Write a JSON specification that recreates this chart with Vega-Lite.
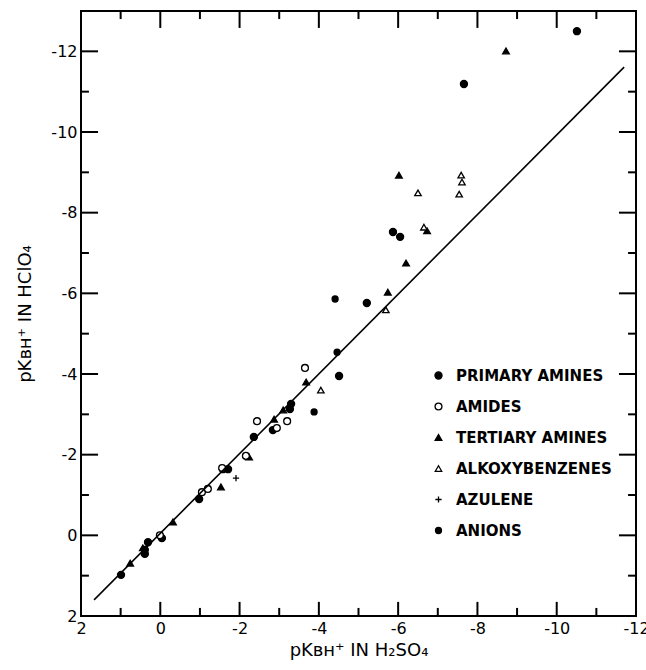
{
  "$schema": "https://vega.github.io/schema/vega-lite/v6.json",
  "width": 555,
  "height": 605,
  "autosize": {"type": "none"},
  "padding": {"left": 81, "top": 11, "right": 10, "bottom": 54},
  "config": {
    "view": {"stroke": "black", "strokeWidth": 2},
    "font": "DejaVu Sans",
    "scale": {"continuousPadding": 0},
    "axis": {
      "domain": false,
      "ticks": false,
      "grid": false,
      "labelColor": "black",
      "titleColor": "black",
      "labelFont": "DejaVu Sans",
      "labelFontSize": 16,
      "titleFont": "DejaVu Sans",
      "titleFontSize": 18,
      "titleFontWeight": "normal",
      "labelFlush": false,
      "labelOverlap": false
    }
  },
  "datasets": {
    "ticks": [
      {"v": 2, "kind": "major"}, {"v": 1, "kind": "minor"}, {"v": 0, "kind": "major"},
      {"v": -1, "kind": "minor"}, {"v": -2, "kind": "major"}, {"v": -3, "kind": "minor"},
      {"v": -4, "kind": "major"}, {"v": -5, "kind": "minor"}, {"v": -6, "kind": "major"},
      {"v": -7, "kind": "minor"}, {"v": -8, "kind": "major"}, {"v": -9, "kind": "minor"},
      {"v": -10, "kind": "major"}, {"v": -11, "kind": "minor"}, {"v": -12, "kind": "major"}
    ]
  },
  "resolve": {"axis": {"x": "independent", "y": "independent"}},
  "layer": [
    {
      "data": {
        "values": [
          {"h2so4": -10.51, "hclo4": -12.50, "class": "PRIMARY AMINES"},
          {"h2so4": -7.66, "hclo4": -11.19, "class": "PRIMARY AMINES"},
          {"h2so4": -5.87, "hclo4": -7.52, "class": "PRIMARY AMINES"},
          {"h2so4": -6.05, "hclo4": -7.40, "class": "PRIMARY AMINES"},
          {"h2so4": -5.21, "hclo4": -5.76, "class": "PRIMARY AMINES"},
          {"h2so4": -4.51, "hclo4": -3.95, "class": "PRIMARY AMINES"},
          {"h2so4": -3.30, "hclo4": -3.26, "class": "PRIMARY AMINES"},
          {"h2so4": -3.27, "hclo4": -3.13, "class": "PRIMARY AMINES"},
          {"h2so4": -2.84, "hclo4": -2.61, "class": "PRIMARY AMINES"},
          {"h2so4": -2.36, "hclo4": -2.44, "class": "PRIMARY AMINES"},
          {"h2so4": -1.58, "hclo4": -1.64, "class": "PRIMARY AMINES"},
          {"h2so4": -1.71, "hclo4": -1.64, "class": "PRIMARY AMINES"},
          {"h2so4": -0.98, "hclo4": -0.90, "class": "PRIMARY AMINES"},
          {"h2so4": -0.04, "hclo4": 0.07, "class": "PRIMARY AMINES"},
          {"h2so4": 0.31, "hclo4": 0.17, "class": "PRIMARY AMINES"},
          {"h2so4": 0.39, "hclo4": 0.36, "class": "PRIMARY AMINES"},
          {"h2so4": 0.39, "hclo4": 0.46, "class": "PRIMARY AMINES"},
          {"h2so4": 0.99, "hclo4": 0.98, "class": "PRIMARY AMINES"},
          {"h2so4": -8.72, "hclo4": -12.01, "class": "TERTIARY AMINES"},
          {"h2so4": -6.02, "hclo4": -8.93, "class": "TERTIARY AMINES"},
          {"h2so4": -6.73, "hclo4": -7.55, "class": "TERTIARY AMINES"},
          {"h2so4": -6.20, "hclo4": -6.75, "class": "TERTIARY AMINES"},
          {"h2so4": -5.74, "hclo4": -6.03, "class": "TERTIARY AMINES"},
          {"h2so4": -3.68, "hclo4": -3.80, "class": "TERTIARY AMINES"},
          {"h2so4": -3.10, "hclo4": -3.11, "class": "TERTIARY AMINES"},
          {"h2so4": -2.87, "hclo4": -2.88, "class": "TERTIARY AMINES"},
          {"h2so4": -2.24, "hclo4": -1.94, "class": "TERTIARY AMINES"},
          {"h2so4": -1.53, "hclo4": -1.20, "class": "TERTIARY AMINES"},
          {"h2so4": -0.32, "hclo4": -0.33, "class": "TERTIARY AMINES"},
          {"h2so4": 0.44, "hclo4": 0.31, "class": "TERTIARY AMINES"},
          {"h2so4": 0.76, "hclo4": 0.69, "class": "TERTIARY AMINES"},
          {"h2so4": -4.41, "hclo4": -5.86, "class": "ANIONS"},
          {"h2so4": -4.46, "hclo4": -4.54, "class": "ANIONS"},
          {"h2so4": -3.88, "hclo4": -3.06, "class": "ANIONS"},
          {"h2so4": -3.65, "hclo4": -4.15, "class": "AMIDES"},
          {"h2so4": -3.20, "hclo4": -2.83, "class": "AMIDES"},
          {"h2so4": -2.94, "hclo4": -2.66, "class": "AMIDES"},
          {"h2so4": -2.44, "hclo4": -2.83, "class": "AMIDES"},
          {"h2so4": -2.16, "hclo4": -1.97, "class": "AMIDES"},
          {"h2so4": -1.56, "hclo4": -1.67, "class": "AMIDES"},
          {"h2so4": -1.05, "hclo4": -1.07, "class": "AMIDES"},
          {"h2so4": -1.20, "hclo4": -1.15, "class": "AMIDES"},
          {"h2so4": 0.01, "hclo4": 0.0, "class": "AMIDES"},
          {"h2so4": -6.50, "hclo4": -8.49, "class": "ALKOXYBENZENES"},
          {"h2so4": -7.59, "hclo4": -8.93, "class": "ALKOXYBENZENES"},
          {"h2so4": -7.61, "hclo4": -8.76, "class": "ALKOXYBENZENES"},
          {"h2so4": -7.54, "hclo4": -8.46, "class": "ALKOXYBENZENES"},
          {"h2so4": -6.65, "hclo4": -7.64, "class": "ALKOXYBENZENES"},
          {"h2so4": -5.69, "hclo4": -5.59, "class": "ALKOXYBENZENES"},
          {"h2so4": -4.05, "hclo4": -3.60, "class": "ALKOXYBENZENES"},
          {"h2so4": -1.91, "hclo4": -1.42, "class": "AZULENE"}
        ]
      },
      "mark": {"type": "point", "strokeWidth": 1.3, "opacity": 1},
      "encoding": {
        "x": {
          "field": "h2so4",
          "type": "quantitative",
          "scale": {"domain": [-12, 2], "reverse": true, "nice": false, "zero": false, "padding": 0},
          "axis": {
            "orient": "bottom",
            "title": "pKʙʜ⁺ IN H₂SO₄",
            "titlePadding": 5,
            "values": [2, 0, -2, -4, -6, -8, -10, -12],
            "labelExpr": "'' + datum.value",
            "labelPadding": 4
          }
        },
        "y": {
          "field": "hclo4",
          "type": "quantitative",
          "scale": {"domain": [-13, 2], "reverse": true, "nice": false, "zero": false, "padding": 0},
          "axis": {
            "orient": "left",
            "title": "pKʙʜ⁺ IN HClO₄",
            "titlePadding": 16,
            "values": [2, 0, -2, -4, -6, -8, -10, -12],
            "labelExpr": "'' + datum.value",
            "labelPadding": 4
          }
        },
        "shape": {
          "field": "class",
          "type": "nominal",
          "scale": {
            "domain": ["PRIMARY AMINES", "AMIDES", "TERTIARY AMINES", "ALKOXYBENZENES", "AZULENE", "ANIONS"],
            "range": ["circle", "circle", "triangle-up", "triangle-up", "M-1,0H1M0,-1V1", "circle"]
          },
          "legend": {"orient": "none", "legendX": 350, "legendY": 357, "title": null, "labelFont": "DejaVu Sans", "labelFontSize": 15, "labelFontWeight": "bold", "labelColor": "black", "rowPadding": 15, "labelOffset": 10, "symbolStrokeWidth": 1.3, "padding": 0}
        },
        "fill": {
          "field": "class",
          "type": "nominal",
          "scale": {
            "domain": ["PRIMARY AMINES", "AMIDES", "TERTIARY AMINES", "ALKOXYBENZENES", "AZULENE", "ANIONS"],
            "range": ["black", "white", "black", "white", "black", "black"]
          },
          "legend": {"orient": "none", "legendX": 350, "legendY": 357, "title": null, "labelFont": "DejaVu Sans", "labelFontSize": 15, "labelFontWeight": "bold", "labelColor": "black", "rowPadding": 15, "labelOffset": 10, "symbolStrokeWidth": 1.3, "padding": 0}
        },
        "stroke": {
          "field": "class",
          "type": "nominal",
          "scale": {
            "domain": ["PRIMARY AMINES", "AMIDES", "TERTIARY AMINES", "ALKOXYBENZENES", "AZULENE", "ANIONS"],
            "range": ["black", "black", "black", "black", "black", "black"]
          },
          "legend": {"orient": "none", "legendX": 350, "legendY": 357, "title": null, "labelFont": "DejaVu Sans", "labelFontSize": 15, "labelFontWeight": "bold", "labelColor": "black", "rowPadding": 15, "labelOffset": 10, "symbolStrokeWidth": 1.3, "padding": 0}
        },
        "size": {
          "field": "class",
          "type": "nominal",
          "scale": {
            "domain": ["PRIMARY AMINES", "AMIDES", "TERTIARY AMINES", "ALKOXYBENZENES", "AZULENE", "ANIONS"],
            "range": [50, 36, 55, 38, 100, 30]
          },
          "legend": {"orient": "none", "legendX": 350, "legendY": 357, "title": null, "labelFont": "DejaVu Sans", "labelFontSize": 15, "labelFontWeight": "bold", "labelColor": "black", "rowPadding": 15, "labelOffset": 10, "symbolStrokeWidth": 1.3, "padding": 0}
        }
      }
    },
    {
      "data": {"values": [{"h2so4": 1.67, "hclo4": 1.6}, {"h2so4": -11.7, "hclo4": -11.61}]},
      "mark": {"type": "line", "color": "black", "strokeWidth": 1.6},
      "encoding": {
        "x": {"field": "h2so4", "type": "quantitative", "axis": null},
        "y": {"field": "hclo4", "type": "quantitative", "axis": null}
      }
    },
    {
      "data": {"name": "ticks"},
      "transform": [{"filter": "datum.kind == 'major'"}],
      "mark": {"type": "bar", "color": "black", "width": 2, "opacity": 1},
      "encoding": {
        "x": {"field": "v", "type": "quantitative", "axis": null},
        "y": {"datum": 2, "type": "quantitative", "axis": null},
        "y2": {"datum": 1.65}
      }
    },
    {
      "data": {"name": "ticks"},
      "transform": [{"filter": "datum.kind == 'minor'"}],
      "mark": {"type": "bar", "color": "black", "width": 2, "opacity": 1},
      "encoding": {
        "x": {"field": "v", "type": "quantitative", "axis": null},
        "y": {"datum": 2, "type": "quantitative", "axis": null},
        "y2": {"datum": 1.8}
      }
    },
    {
      "data": {"name": "ticks"},
      "transform": [{"filter": "datum.kind == 'major'"}],
      "mark": {"type": "bar", "color": "black", "width": 2, "opacity": 1},
      "encoding": {
        "x": {"field": "v", "type": "quantitative", "axis": null},
        "y": {"datum": -13, "type": "quantitative", "axis": null},
        "y2": {"datum": -12.58}
      }
    },
    {
      "data": {"name": "ticks"},
      "transform": [{"filter": "datum.kind == 'minor'"}],
      "mark": {"type": "bar", "color": "black", "width": 2, "opacity": 1},
      "encoding": {
        "x": {"field": "v", "type": "quantitative", "axis": null},
        "y": {"datum": -13, "type": "quantitative", "axis": null},
        "y2": {"datum": -12.8}
      }
    },
    {
      "data": {"name": "ticks"},
      "transform": [{"filter": "datum.kind == 'major'"}],
      "mark": {"type": "bar", "color": "black", "height": 2, "opacity": 1, "orient": "horizontal"},
      "encoding": {
        "y": {"field": "v", "type": "quantitative", "axis": null},
        "x": {"datum": 2, "type": "quantitative", "axis": null},
        "x2": {"datum": 1.57}
      }
    },
    {
      "data": {"name": "ticks"},
      "transform": [{"filter": "datum.kind == 'minor'"}],
      "mark": {"type": "bar", "color": "black", "height": 2, "opacity": 1, "orient": "horizontal"},
      "encoding": {
        "y": {"field": "v", "type": "quantitative", "axis": null},
        "x": {"datum": 2, "type": "quantitative", "axis": null},
        "x2": {"datum": 1.8}
      }
    },
    {
      "data": {"name": "ticks"},
      "transform": [{"filter": "datum.kind == 'major'"}],
      "mark": {"type": "bar", "color": "black", "height": 2, "opacity": 1, "orient": "horizontal"},
      "encoding": {
        "y": {"field": "v", "type": "quantitative", "axis": null},
        "x": {"datum": -12, "type": "quantitative", "axis": null},
        "x2": {"datum": -11.57}
      }
    },
    {
      "data": {"name": "ticks"},
      "transform": [{"filter": "datum.kind == 'minor'"}],
      "mark": {"type": "bar", "color": "black", "height": 2, "opacity": 1, "orient": "horizontal"},
      "encoding": {
        "y": {"field": "v", "type": "quantitative", "axis": null},
        "x": {"datum": -12, "type": "quantitative", "axis": null},
        "x2": {"datum": -11.8}
      }
    }
  ]
}
